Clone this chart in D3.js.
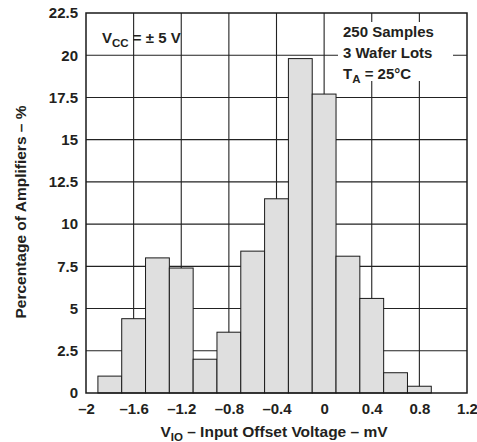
<!DOCTYPE html>
<html>
<head>
<meta charset="utf-8">
<script src="https://cdn.jsdelivr.net/npm/d3@7"></script>
<style>
  body { margin: 0; background: #fff; }
  svg text { font-family: "Liberation Sans", Arial, Helvetica, sans-serif; font-weight: bold; fill: #231f20; }
</style>
</head>
<body>
<svg id="chart" width="477" height="442"></svg>
<script>
// histogram bins (centre of each 0.2 mV bin) and percentage of amplifiers
const binCenters = [-1.8, -1.6, -1.4, -1.2, -1.0, -0.8, -0.6, -0.4, -0.2, 0.0, 0.2, 0.4, 0.6, 0.8];
const percents   = [1.0, 4.4, 8.0, 7.4, 2.0, 3.6, 8.4, 11.5, 19.8, 17.7, 8.1, 5.6, 1.2, 0.4];
const binWidth = 0.2;

const xTicks = [-2, -1.6, -1.2, -0.8, -0.4, 0, 0.4, 0.8, 1.2];
const xTickLabels = ["\u20132", "\u20131.6", "\u20131.2", "\u20130.8", "\u20130.4", "0", "0.4", "0.8", "1.2"];
const yTicks = [0, 2.5, 5, 7.5, 10, 12.5, 15, 17.5, 20, 22.5];

const legendRight = ["250 Samples", "3 Wafer Lots"];

const plotL = 86, plotT = 13, plotR = 467, plotB = 393;

const svg = d3.select("#chart");

const x = d3.scaleLinear().domain([-2, 1.2]).range([plotL, plotR]);
const y = d3.scaleLinear().domain([0, 22.5]).range([plotB, plotT]);

// grid lines
svg.append("g")
  .selectAll("line")
  .data(xTicks.slice(1, -1))
  .enter().append("line")
    .attr("x1", d => x(d)).attr("x2", d => x(d))
    .attr("y1", plotT).attr("y2", plotB)
    .attr("stroke", "#222").attr("stroke-width", 1.1);

svg.append("g")
  .selectAll("line")
  .data(yTicks.slice(1, -1))
  .enter().append("line")
    .attr("x1", plotL).attr("x2", plotR)
    .attr("y1", d => y(d)).attr("y2", d => y(d))
    .attr("stroke", "#222").attr("stroke-width", 1.1);

// bars
svg.append("g")
  .selectAll("rect")
  .data(binCenters.map((c, i) => ({c: c, v: percents[i]})))
  .enter().append("rect")
    .attr("x", d => x(d.c - binWidth / 2))
    .attr("width", d => x(d.c + binWidth / 2) - x(d.c - binWidth / 2))
    .attr("y", d => y(d.v))
    .attr("height", d => y(0) - y(d.v))
    .attr("fill", "#dfdfdf")
    .attr("stroke", "#1a1a1a")
    .attr("stroke-width", 1);

// legend, top right, on a white box that hides the grid
svg.append("rect")
  .attr("x", 338).attr("y", 22).attr("width", 115).attr("height", 59)
  .attr("fill", "#fff");

legendRight.forEach((t, i) => {
  svg.append("text")
    .attr("x", 343).attr("y", 36.5 + i * 21.3)
    .style("font-size", "15px")
    .text(t);
});
const ta = svg.append("text")
  .attr("x", 343).attr("y", 79)
  .style("font-size", "15px");
ta.append("tspan").text("T");
ta.append("tspan").attr("dy", 4).style("font-size", "11.5px").text("A");
ta.append("tspan").attr("dy", -4).text(" = 25\u00B0C");

// legend, top left
const vcc = svg.append("text")
  .attr("x", 102).attr("y", 43)
  .style("font-size", "15px");
vcc.append("tspan").text("V");
vcc.append("tspan").attr("dy", 4).style("font-size", "11.5px").text("CC");
vcc.append("tspan").attr("dy", -4).text(" = \u00B1 5 V");

// frame
svg.append("rect")
  .attr("x", plotL).attr("y", plotT)
  .attr("width", plotR - plotL).attr("height", plotB - plotT)
  .attr("fill", "none").attr("stroke", "#1a1a1a").attr("stroke-width", 1.5);

// axes (labels only)
const xAxis = svg.append("g")
  .attr("transform", "translate(0," + plotB + ")")
  .call(d3.axisBottom(x).tickValues(xTicks).tickSize(0).tickPadding(10)
    .tickFormat((d, i) => xTickLabels[i]));
xAxis.select(".domain").remove();
xAxis.selectAll("text").style("font-size", "15px").attr("fill", "#231f20");

const yAxis = svg.append("g")
  .attr("transform", "translate(" + plotL + ",0)")
  .call(d3.axisLeft(y).tickValues(yTicks).tickSize(0).tickPadding(8)
    .tickFormat(d => String(d)));
yAxis.select(".domain").remove();
yAxis.selectAll("text").style("font-size", "15px").attr("fill", "#231f20");

// axis titles
const xt = svg.append("text")
  .attr("x", 274).attr("y", 436.5)
  .attr("text-anchor", "middle")
  .style("font-size", "15.5px");
xt.append("tspan").text("V");
xt.append("tspan").attr("dy", 4).style("font-size", "11.5px").text("IO");
xt.append("tspan").attr("dy", -4).text(" \u2013 Input Offset Voltage \u2013 mV");

svg.append("text")
  .attr("transform", "translate(26,212) rotate(-90)")
  .attr("text-anchor", "middle")
  .style("font-size", "15.5px")
  .text("Percentage of Amplifiers \u2013 %");
</script>
</body>
</html>
